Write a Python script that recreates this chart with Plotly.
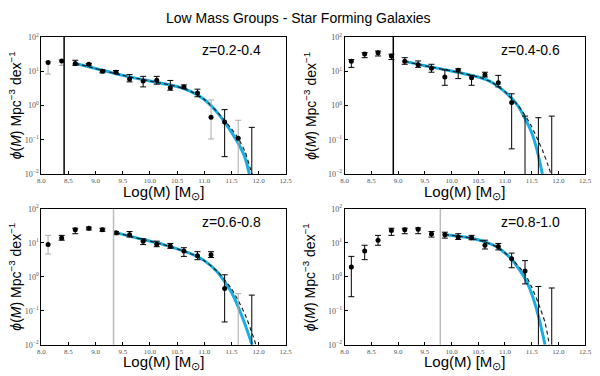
import plotly.graph_objects as go

# ---------------- data ----------------
mass_bins = [8.125, 8.375, 8.625, 8.875, 9.125, 9.375, 9.625, 9.875,
             10.125, 10.375, 10.625, 10.875, 11.125, 11.375, 11.625, 11.875]

panel_labels = ["z=0.2-0.4", "z=0.4-0.6", "z=0.6-0.8", "z=0.8-1.0"]
mass_limits = [8.42, 8.91, 9.33, 9.79]
limit_colors = ["black", "black", "#bbbbbb", "#bbbbbb"]

phi_z1 = [18, 20, 17, 16, 10, 9.4, 5.9, 5.2, 5.5, 3.3, 3.5, 2.3, 0.45, 0.33, 0.11, 0.005]
hi_z1 = [19, 22, 21, 17, 11, 10.5, 8.0, 7.1, 7.1, 5.4, 4.0, 3.0, 1.45, 0.76, 0.37, 0.23]
lo_z1 = [8.3, 15, 15, 15, 9, 8.8, 4.9, 3.5, 4.2, 2.8, 3.2, 1.8, 0.105, 0.032, 0.001, 0.001]
grey_z1 = [0, 1, 12, 14]

phi_z2 = [19.5, 32, 35, 28, 19.5, 15.5, 12.3, 6.8, 10.7, 6.5, 7.9, 4.6, 1.23, 0.005, 0.005, 0.005]
hi_z2 = [22, 35, 39, 31.6, 25, 20, 16, 11, 11.8, 7.6, 9.4, 7.6, 2.2, 0.49, 0.44, 0.49]
lo_z2 = [13, 25, 28, 22, 16, 13, 9.4, 3.9, 6.1, 3.9, 6.8, 3.5, 0.054, 0.001, 0.001, 0.001]
grey_z2 = []

phi_z3 = [8.9, 13.8, 24.5, 27, 24.5, 20, 17.4, 11.2, 9.1, 8.1, 5.8, 4.2, 4.5, 0.45, 0.005, 0.005]
hi_z3 = [16.6, 16.6, 27, 29, 27, 21.5, 21.5, 13.2, 11.2, 9.6, 7.2, 5.5, 5.5, 1.15, 0.32, 0.29]
lo_z3 = [4.7, 12, 18.6, 24, 22, 17.4, 14.8, 8.9, 7.7, 6.9, 4.0, 3.2, 3.7, 0.047, 0.001, 0.001]
grey_z3 = [0, 14]

phi_z4 = [1.95, 5.8, 12, 23, 24.5, 25, 18.2, 17.4, 14.8, 14.1, 8.5, 7.8, 3.4, 1.48, 0.005, 0.005]
hi_z4 = [4.0, 8.5, 16.6, 27, 27, 27.5, 21.5, 20.6, 18.6, 16.6, 12, 9.6, 5.0, 3.0, 0.52, 0.47]
lo_z4 = [0.26, 3.2, 8.5, 16.6, 18.6, 18.6, 14.8, 13.8, 12.6, 12.3, 6.6, 6.2, 1.85, 0.62, 0.001, 0.001]
grey_z4 = []

# fitted curves (solid cyan = fit, dashed = alt. fit)
fit_x_z1 = [8.625, 9.0, 9.5, 10.0, 10.5, 10.75, 11.0, 11.25, 11.5, 11.625, 11.75, 11.83]
fit_y_z1 = [17, 12, 7.6, 5.2, 3.6, 2.6, 1.5, 0.60, 0.166, 0.079, 0.030, 0.010]
dash_x_z1 = [8.625, 9.0, 9.5, 10.0, 10.5, 10.75, 11.0, 11.25, 11.5, 11.625, 11.75, 11.85, 11.88]
dash_y_z1 = [17, 12, 7.6, 5.2, 3.6, 2.6, 1.5, 0.62, 0.21, 0.11, 0.045, 0.014, 0.010]

fit_x_z2 = [9.125, 9.5, 10.0, 10.5, 10.75, 11.0, 11.25, 11.4, 11.5, 11.6, 11.7]
fit_y_z2 = [19.5, 14.5, 10.2, 6.8, 4.8, 2.5, 0.95, 0.35, 0.16, 0.05, 0.01]
dash_x_z2 = [9.125, 9.5, 10.0, 10.5, 10.75, 11.0, 11.25, 11.4, 11.5, 11.6, 11.7, 11.8, 11.86]
dash_y_z2 = [19.5, 14.5, 10.2, 6.8, 4.8, 2.5, 0.98, 0.45, 0.24, 0.11, 0.05, 0.019, 0.010]

fit_x_z3 = [9.375, 9.75, 10.25, 10.75, 11.0, 11.25, 11.5, 11.625, 11.75, 11.88]
fit_y_z3 = [20, 14, 8.9, 4.8, 3.0, 1.35, 0.35, 0.13, 0.04, 0.01]
dash_x_z3 = [9.375, 9.75, 10.25, 10.75, 11.0, 11.25, 11.5, 11.625, 11.75, 11.9, 11.95]
dash_y_z3 = [20, 14, 8.9, 4.8, 3.0, 1.4, 0.45, 0.2, 0.079, 0.018, 0.010]

fit_x_z4 = [9.875, 10.25, 10.625, 10.875, 11.125, 11.375, 11.5, 11.625, 11.75]
fit_y_z4 = [17.4, 14.8, 10.7, 7.2, 3.3, 0.89, 0.32, 0.071, 0.01]
dash_x_z4 = [9.875, 10.25, 10.625, 10.875, 11.125, 11.375, 11.5, 11.625, 11.75, 11.83]
dash_y_z4 = [17.4, 14.8, 10.7, 7.2, 3.4, 1.2, 0.5, 0.166, 0.045, 0.010]

x_ticks = [8.0, 8.5, 9.0, 9.5, 10.0, 10.5, 11.0, 11.5, 12.0, 12.5]
y_ticks = [0.01, 0.1, 1, 10, 100]
y_tick_text = ["10<sup>\u22122</sup>", "10<sup>\u22121</sup>", "10<sup>0</sup>",
               "10<sup>1</sup>", "10<sup>2</sup>"]

title_text = "Low Mass Groups - Star Forming Galaxies"
x_title = "Log(M) [M<sub>\u2299</sub>]"
y_title = "<i>\u03d5</i>(<i>M</i>) Mpc<sup>\u22123</sup> dex<sup>\u22121</sup>"

# ---------------- figure ----------------
panels = [
    (phi_z1, hi_z1, lo_z1, grey_z1, fit_x_z1, fit_y_z1, dash_x_z1, dash_y_z1),
    (phi_z2, hi_z2, lo_z2, grey_z2, fit_x_z2, fit_y_z2, dash_x_z2, dash_y_z2),
    (phi_z3, hi_z3, lo_z3, grey_z3, fit_x_z3, fit_y_z3, dash_x_z3, dash_y_z3),
    (phi_z4, hi_z4, lo_z4, grey_z4, fit_x_z4, fit_y_z4, dash_x_z4, dash_y_z4),
]

W, H = 600, 376
xpix = [(38, 287), (347, 592), (38, 287), (347, 592)]
ypix = [(32, 173), (32, 173), (209, 349), (209, 349)]
xtitle_y = [192, 192, 367, 367]
ytitle_x = [11, 311, 11, 311]

fig = go.Figure()
layout = dict(
    width=W, height=H, margin=dict(l=0, r=0, t=0, b=0),
    paper_bgcolor="white", plot_bgcolor="white", showlegend=False,
    hovermode=False,
    font=dict(family="Liberation Sans, Arial, sans-serif", color="black"),
)

shapes = []
annotations = [dict(text=title_text, x=0.5, y=1 - 12 / H, xref="paper", yref="paper",
                    showarrow=False, font=dict(size=14), xanchor="center", yanchor="middle")]

for i, (phi, hi, lo, grey, fx, fy, dx, dy) in enumerate(panels):
    xa = "x" if i == 0 else f"x{i+1}"
    ya = "y" if i == 0 else f"y{i+1}"
    xkey = "xaxis" if i == 0 else f"xaxis{i+1}"
    ykey = "yaxis" if i == 0 else f"yaxis{i+1}"
    x0p, x1p = xpix[i]
    y0p, y1p = ypix[i]

    # fits
    fig.add_trace(go.Scatter(x=fx, y=fy, mode="lines",
                             line=dict(color="#1aaee0", width=3, shape="spline", smoothing=0.6),
                             xaxis=xa, yaxis=ya, hoverinfo="skip"))
    fig.add_trace(go.Scatter(x=dx, y=dy, mode="lines",
                             line=dict(color="#222222", width=1.2, dash="4px,3px", shape="spline", smoothing=0.6),
                             xaxis=xa, yaxis=ya, hoverinfo="skip"))

    # data points, split by error-bar colour
    for colour, sel in (("black", [k for k in range(len(mass_bins)) if k not in grey]),
                        ("#aaaaaa", grey)):
        if not sel:
            continue
        xs = [mass_bins[k] for k in sel]
        ys = [phi[k] for k in sel]
        up = [hi[k] - phi[k] for k in sel]
        dn = [phi[k] - lo[k] for k in sel]
        fig.add_trace(go.Scatter(
            x=xs, y=ys, mode="markers",
            marker=dict(color="black", size=5),
            error_y=dict(type="data", symmetric=False, array=up, arrayminus=dn,
                         color=colour, thickness=1, width=3),
            xaxis=xa, yaxis=ya))

    shapes.append(dict(type="line", xref=xa, yref=f"{ya} domain",
                       x0=mass_limits[i], x1=mass_limits[i], y0=0, y1=1,
                       line=dict(color=limit_colors[i], width=1.5)))

    annotations.append(dict(text=panel_labels[i], xref=f"{xa} domain", yref=f"{ya} domain",
                            x=0.905, y=0.905, xanchor="right", yanchor="middle",
                            showarrow=False, font=dict(size=14)))
    annotations.append(dict(text=x_title, xref="paper", yref="paper",
                            x=(x0p + x1p) / 2 / W, y=1 - xtitle_y[i] / H,
                            xanchor="center", yanchor="middle", showarrow=False,
                            font=dict(size=15)))
    annotations.append(dict(text=y_title, xref="paper", yref="paper",
                            x=ytitle_x[i] / W, y=1 - (y0p + y1p) / 2 / H,
                            xanchor="center", yanchor="middle", showarrow=False,
                            textangle=-90, font=dict(size=14)))

    layout[xkey] = dict(domain=[x0p / W, x1p / W], anchor=ya, range=[8.0, 12.5],
                        tickvals=x_ticks, ticktext=[f"{v:.1f}" for v in x_ticks],
                        ticks="inside", ticklen=3, tickcolor="black",
                        showline=True, mirror=True, linecolor="black", linewidth=1,
                        showgrid=False, zeroline=False, fixedrange=True,
                        tickfont=dict(size=7, color="#555555", family="Liberation Serif, serif"))
    layout[ykey] = dict(domain=[1 - y1p / H, 1 - y0p / H], anchor=xa, type="log", range=[-2, 2],
                        tickvals=y_ticks, ticktext=y_tick_text,
                        ticks="inside", ticklen=3, tickcolor="black",
                        showline=True, mirror=True, linecolor="black", linewidth=1,
                        showgrid=False, zeroline=False, fixedrange=True,
                        tickfont=dict(size=8, color="#555555", family="Liberation Serif, serif"))

layout["shapes"] = shapes
layout["annotations"] = annotations
fig.update_layout(**layout)
fig.write_html("out.html", config={"displayModeBar": False},
               post_script="document.body.style.margin='0';")
